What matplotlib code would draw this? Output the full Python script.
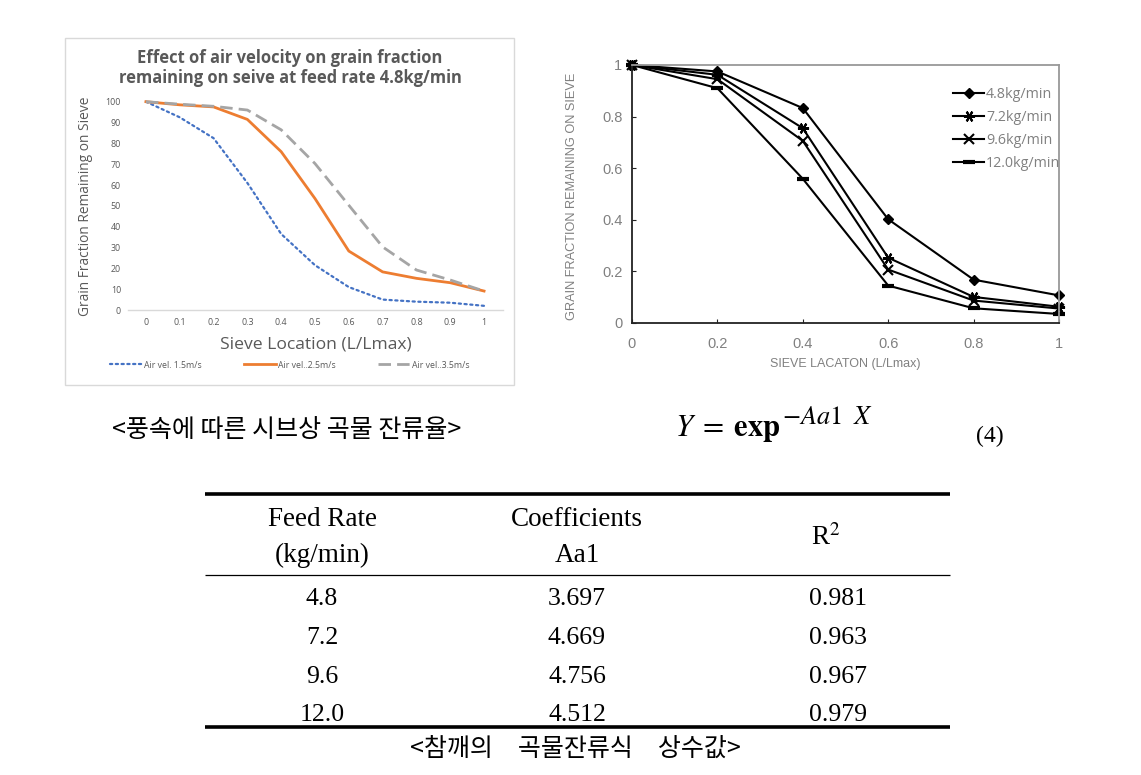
import matplotlib
matplotlib.use("Agg")
import matplotlib.pyplot as plt
import matplotlib.font_manager as fm
from matplotlib.patches import Rectangle

# ---------------- data ----------------
sieve_left = [0, 0.1, 0.2, 0.3, 0.4, 0.5, 0.6, 0.7, 0.8, 0.9, 1]
air_15 = [100, 92.5, 82.5, 61, 36.5, 21.5, 11, 5, 4, 3.5, 2]
air_25 = [100, 98.5, 97.5, 91.5, 76, 53.5, 28.3, 18.3, 15.2, 13.1, 9.1]
air_35 = [100, 98.8, 97.8, 96, 86.5, 70.3, 50.3, 30.3, 19.2, 14.4, 9.1]
left_labels = ["Air vel. 1.5m/s", "Air vel..2.5m/s", "Air vel..3.5m/s"]

sieve_right = [0, 0.2, 0.4, 0.6, 0.8, 1.0]
fr_48 = [1.0, 0.975, 0.833, 0.402, 0.168, 0.107]
fr_72 = [1.0, 0.962, 0.755, 0.253, 0.101, 0.063]
fr_96 = [1.0, 0.945, 0.706, 0.207, 0.087, 0.056]
fr_120 = [1.0, 0.91, 0.559, 0.145, 0.057, 0.035]
right_labels = ["4.8kg/min", "7.2kg/min", "9.6kg/min", "12.0kg/min"]

table_feed = ["4.8", "7.2", "9.6", "12.0"]
table_coef = ["3.697", "4.669", "4.756", "4.512"]
table_r2 = ["0.981", "0.963", "0.967", "0.979"]

# ---------------- figure ----------------
W, H = 1141, 775
fig = plt.figure(figsize=(W / 100, H / 100), dpi=100)
fig.patch.set_facecolor("white")

names = {f.name for f in fm.fontManager.ttflist}
narrow = "Liberation Sans Narrow" if "Liberation Sans Narrow" in names else "Liberation Sans"
kr = ["Noto Sans CJK KR", "DejaVu Sans"]

# overlay axes in pixel coordinates for free text / table
ov = fig.add_axes([0, 0, 1, 1])
ov.set_xlim(0, W)
ov.set_ylim(H, 0)
ov.axis("off")
ov.patch.set_alpha(0)

# Excel chart area border
ov.add_patch(Rectangle((65, 38), 449, 347, fill=False, edgecolor="#D9D9D9", lw=1.0))

def fx(px):
    return px / W

def fy(py):
    return 1 - py / H

# ---------------- left chart ----------------
gray_txt = "#595959"
axL = fig.add_axes([fx(128), fy(310), (503 - 128) / W, (310 - 101.7) / H])
axL.patch.set_alpha(0)
axL.plot(sieve_left, air_15, color="#4472C4", lw=1.6, linestyle=(0, (1, 1.6)),
         dash_capstyle="round", clip_on=False)
axL.plot(sieve_left, air_25, color="#ED7D31", lw=2.0, clip_on=False)
axL.plot(sieve_left, air_35, color="#A5A5A5", lw=2.0, linestyle=(0, (4.5, 2.2)), clip_on=False)
axL.set_xlim(-0.053, 1.056)
axL.set_ylim(0, 100)
axL.set_xticks(sieve_left)
axL.set_xticklabels(["0", "0.1", "0.2", "0.3", "0.4", "0.5", "0.6", "0.7", "0.8", "0.9", "1"])
axL.set_yticks(range(0, 101, 10))
for s in ["top", "right", "left"]:
    axL.spines[s].set_visible(False)
axL.spines["bottom"].set_color("#D9D9D9")
axL.spines["bottom"].set_linewidth(1.0)
axL.tick_params(axis="both", length=0, labelsize=6.4, labelcolor=gray_txt)
axL.tick_params(axis="y", pad=5)
axL.tick_params(axis="x", pad=6)
for t in axL.get_xticklabels() + axL.get_yticklabels():
    t.set_family("Open Sans")
axL.set_ylabel("Grain Fraction Remaining on Sieve", fontsize=9.9, color=gray_txt, family="Open Sans")
axL.yaxis.set_label_coords(-0.093, 0.5)
axL.set_xlabel("Sieve Location (L/Lmax)", fontsize=12.6, color=gray_txt, family="Open Sans")
axL.xaxis.set_label_coords(0.5, -0.125)
ov.text(290, 58, "Effect of air velocity on grain fraction", ha="center", va="center",
        fontsize=11.9, fontweight="bold", color=gray_txt, family="Open Sans")
ov.text(290, 78, "remaining on seive at feed rate 4.8kg/min", ha="center", va="center",
        fontsize=11.9, fontweight="bold", color=gray_txt, family="Open Sans")
legL = axL.legend(axL.get_lines(), left_labels, loc="center", ncol=3,
                  bbox_to_anchor=((290 - 128) / 375, (310 - 365) / 208.3),
                  frameon=False, handlelength=3.6, handletextpad=0.3,
                  columnspacing=4.8, labelcolor=gray_txt, prop={"family": "Open Sans", "size": 6.3})

# ---------------- right chart ----------------
rg = "#808080"
axR = fig.add_axes([fx(632), fy(323), (1059 - 632) / W, (323 - 65) / H])
axR.patch.set_alpha(0)
axR.plot(sieve_right, fr_48, color="black", lw=1.5, marker="D", ms=5, clip_on=False)
axR.plot(sieve_right, fr_72, color="black", lw=1.5, marker=(6, 2, 90), ms=8, mew=1.5, clip_on=False)
axR.plot(sieve_right, fr_96, color="black", lw=1.5, marker="x", ms=7, mew=1.5, clip_on=False)
axR.plot(sieve_right, fr_120, color="black", lw=1.5, marker="_", ms=8, mew=3, clip_on=False)
axR.set_xlim(0, 1)
axR.set_ylim(0, 1)
axR.set_xticks([0, 0.2, 0.4, 0.6, 0.8, 1])
axR.set_xticklabels(["0", "0.2", "0.4", "0.6", "0.8", "1"])
axR.set_yticks([0, 0.2, 0.4, 0.6, 0.8, 1])
axR.set_yticklabels(["0", "0.2", "0.4", "0.6", "0.8", "1"])
axR.spines["left"].set_color("#222222")
axR.spines["bottom"].set_color("#222222")
axR.spines["top"].set_color("#999999")
axR.spines["right"].set_color("#999999")
for s in axR.spines.values():
    s.set_linewidth(1.3)
axR.tick_params(axis="both", direction="in", length=3, color="#222222",
                labelsize=10.5, labelcolor=rg)
axR.tick_params(axis="y", pad=7)
axR.tick_params(axis="x", pad=10)
for t in axR.get_xticklabels() + axR.get_yticklabels():
    t.set_family("Liberation Sans")
axR.set_ylabel("GRAIN FRACTION REMAINING ON SIEVE", fontsize=9.2, color=rg, family=narrow)
axR.yaxis.set_label_coords(-0.126, 0.49)
axR.set_xlabel("SIEVE LACATON (L/Lmax)", fontsize=9, color=rg, family=narrow)
axR.xaxis.set_label_coords(0.5, -0.135)
axR.legend(right_labels, loc="upper left", bbox_to_anchor=((953 - 632) / 427, (323 - 87) / 258),
           frameon=False, handlelength=2.2, handletextpad=0.1, labelspacing=0.55,
           borderpad=0, borderaxespad=0, labelcolor=rg,
           prop={"family": "Open Sans", "size": 10.3})

# ---------------- captions & equation ----------------
ov.text(112, 430, "<풍속에 따른 시브상 곡물 잔류율>", ha="left", va="center",
        fontsize=18, family=kr, color="black")
ov.text(675, 428, r"$Y\;=\;\mathbf{exp}$", ha="left", va="center",
        fontsize=22, math_fontfamily="stix", color="black")
ov.text(782, 417, r"$-Aa1\;\;X$", ha="left", va="center",
        fontsize=19, math_fontfamily="stix", color="black")
ov.text(990, 436, "(4)", ha="center", va="center", fontsize=17, family="Liberation Serif")

# ---------------- table ----------------
ov.hlines([494, 727], 205, 950, color="black", lw=2.6)
ov.hlines([575], 205, 950, color="black", lw=0.9)
col_x = [322, 577, 838]
serif = "Liberation Serif"
hs = 19.5
ns = 18.5
ov.text(col_x[0], 520, "Feed Rate", ha="center", va="center", fontsize=hs, family=serif)
ov.text(col_x[0], 555, "(kg/min)", ha="center", va="center", fontsize=hs, family=serif)
ov.text(col_x[1], 520, "Coefficients", ha="center", va="center", fontsize=hs, family=serif)
ov.text(col_x[1], 555, "Aa1", ha="center", va="center", fontsize=hs, family=serif)
ov.text(826, 538, r"R$^{2}$", ha="center", va="center", fontsize=hs, family=serif,
        math_fontfamily="stix")
row_y = [599, 638, 677, 715]
for yy, a, b, c in zip(row_y, table_feed, table_coef, table_r2):
    ov.text(col_x[0], yy, a, ha="center", va="center", fontsize=ns, family=serif)
    ov.text(col_x[1], yy, b, ha="center", va="center", fontsize=ns, family=serif)
    ov.text(col_x[2], yy, c, ha="center", va="center", fontsize=ns, family=serif)
ov.text(575, 749, "<참깨의\u3000곡물잔류식\u3000상수값>", ha="center", va="center",
        fontsize=18, family=kr, color="black")

fig.savefig("out.png", dpi=100, facecolor="white")
